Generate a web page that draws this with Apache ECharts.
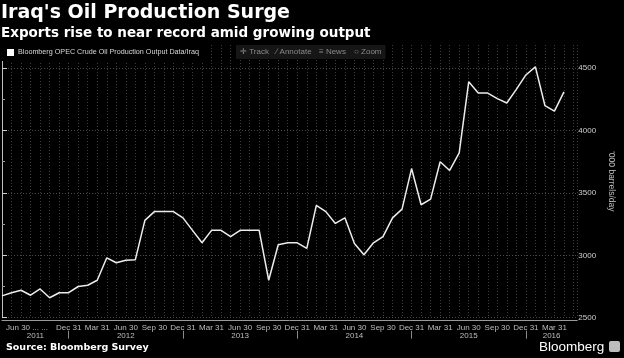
<!DOCTYPE html>
<html><head><meta charset="utf-8">
<script src="https://cdn.jsdelivr.net/npm/echarts@6/dist/echarts.min.js"></script>
<style>html,body{margin:0;padding:0;background:#000;}#c{width:624px;height:358px;}</style>
</head><body><div id="c"></div>
<script>
const months = [
  'May 2011','Jun 2011','Jul 2011','Aug 2011','Sep 2011','Oct 2011','Nov 2011','Dec 2011',
  'Jan 2012','Feb 2012','Mar 2012','Apr 2012','May 2012','Jun 2012','Jul 2012','Aug 2012','Sep 2012','Oct 2012','Nov 2012','Dec 2012',
  'Jan 2013','Feb 2013','Mar 2013','Apr 2013','May 2013','Jun 2013','Jul 2013','Aug 2013','Sep 2013','Oct 2013','Nov 2013','Dec 2013',
  'Jan 2014','Feb 2014','Mar 2014','Apr 2014','May 2014','Jun 2014','Jul 2014','Aug 2014','Sep 2014','Oct 2014','Nov 2014','Dec 2014',
  'Jan 2015','Feb 2015','Mar 2015','Apr 2015','May 2015','Jun 2015','Jul 2015','Aug 2015','Sep 2015','Oct 2015','Nov 2015','Dec 2015',
  'Jan 2016','Feb 2016','Mar 2016','Apr 2016'
];
const production = [
  2675, 2700, 2720, 2680, 2730, 2660, 2700, 2700,
  2750, 2760, 2800, 2980, 2940, 2960, 2965, 3280, 3350, 3350, 3350, 3300,
  3200, 3100, 3200, 3200, 3150, 3200, 3200, 3200, 2800, 3085, 3100, 3100,
  3055, 3400, 3350, 3255, 3300, 3095, 3005, 3100, 3150, 3300, 3370, 3695,
  3405, 3450, 3750, 3680, 3820, 4390, 4300, 4300, 4255, 4220, 4330, 4445,
  4510, 4200, 4155, 4310
];
const tickMonths = ['Jun 2011','Sep 2011','Dec 2011','Mar 2012','Jun 2012','Sep 2012','Dec 2012',
  'Mar 2013','Jun 2013','Sep 2013','Dec 2013','Mar 2014','Jun 2014','Sep 2014','Dec 2014',
  'Mar 2015','Jun 2015','Sep 2015','Dec 2015','Mar 2016'];
const tickLabels = ['Jun 30','... ...','Dec 31','Mar 31','Jun 30','Sep 30','Dec 31',
  'Mar 31','Jun 30','Sep 30','Dec 31','Mar 31','Jun 30','Sep 30','Dec 31',
  'Mar 31','Jun 30','Sep 30','Dec 31','Mar 31'];
const yearLabels = ['2011','2012','2013','2014','2015','2016'];
const yearEndMonths = ['Dec 2011','Dec 2012','Dec 2013','Dec 2014','Dec 2015'];
const yTickLabels = [2500, 3000, 3500, 4000, 4500];

const seriesName = 'Bloomberg OPEC Crude Oil Production Output Data/Iraq';
const xMin = 0, xMax = 60.4;
const tickPos = tickMonths.map(m => months.indexOf(m));
const firstTickPos = tickPos.slice(0, 1);
const restTickPos = tickPos.slice(1);
const yearEndPos = yearEndMonths.map(m => months.indexOf(m));
const bounds = [xMin].concat(yearEndPos, [xMax]);
const yearPos = yearLabels.map((y, i) => (bounds[i] + bounds[i + 1]) / 2);
const lineData = production.map((v, i) => [i, v]);

const smallFont = 'Liberation Sans';
function quarterLabel(v) {
  const i = tickPos.indexOf(Math.round(v));
  return i >= 0 ? tickLabels[i] : '';
}
const chart = echarts.init(document.getElementById('c'), null, {renderer: 'canvas'});
chart.setOption({
  backgroundColor: '#000',
  animation: false,
  title: [
    {text: "Iraq's Oil Production Surge", left: 1, top: 4, padding: 0,
     textStyle: {color: '#fff', fontSize: 19, fontWeight: 'bold', fontFamily: 'DejaVu Sans'}},
    {text: 'Exports rise to near record amid growing output', left: 1, top: 26, padding: 0,
     textStyle: {color: '#fff', fontSize: 13.5, fontWeight: 'bold', fontFamily: 'DejaVu Sans'}},
    {text: '\u271B Track', left: 236, top: 45, padding: [3, 4], backgroundColor: '#161616',
     textStyle: {color: '#8a8a8a', fontSize: 8, fontWeight: 'normal', fontFamily: smallFont}},
    {text: '\u2215 Annotate', left: 272, top: 45, padding: [3, 4], backgroundColor: '#161616',
     textStyle: {color: '#8a8a8a', fontSize: 8, fontWeight: 'normal', fontFamily: smallFont}},
    {text: '\u2261 News', left: 315, top: 45, padding: [3, 4], backgroundColor: '#161616',
     textStyle: {color: '#8a8a8a', fontSize: 8, fontWeight: 'normal', fontFamily: smallFont}},
    {text: '\u25CB Zoom', left: 350, top: 45, padding: [3, 4], backgroundColor: '#161616',
     textStyle: {color: '#8a8a8a', fontSize: 8, fontWeight: 'normal', fontFamily: smallFont}},
    {text: 'Source: Bloomberg Survey', left: 6, top: 343, padding: 0,
     textStyle: {color: '#fff', fontSize: 9.5, fontWeight: 'bold', fontFamily: 'DejaVu Sans'}},
    {text: 'Bloomberg', left: 539, top: 340, padding: 0,
     textStyle: {color: '#fff', fontSize: 13.5, fontWeight: 'normal', fontFamily: smallFont}}
  ],
  graphic: [
    {type: 'rect', left: 609, top: 341, shape: {width: 11, height: 11, r: 2}, style: {fill: '#bdbdbd'}}
  ],
  legend: {
    left: 2, top: 44, padding: [5, 6, 5, 5], backgroundColor: '#000',
    itemWidth: 7, itemHeight: 7, itemGap: 4,
    data: [{name: seriesName, icon: 'rect', itemStyle: {color: '#fff'}}],
    textStyle: {color: '#d8d8d8', fontSize: 7.2, fontFamily: smallFont, padding: [0, 0, 0, -1]}
  },
  grid: {left: 2, right: 35, top: 45, bottom: 40.3},
  xAxis: [
    {type: 'value', min: xMin, max: xMax, interval: 1, offset: 3,
     axisLine: {show: true, lineStyle: {color: '#9a9a9a', width: 1}},
     axisTick: {show: false}, axisLabel: {show: false},
     splitLine: {show: true, lineStyle: {color: '#3d3d3d', type: [1, 2], width: 1}}},
    {type: 'value', min: xMin, max: xMax, position: 'bottom', offset: 3,
     axisLine: {show: false}, axisTick: {show: false}, splitLine: {show: false},
     axisLabel: {customValues: restTickPos, color: '#bdbdbd', fontSize: 8, fontFamily: smallFont, margin: 3,
       hideOverlap: false, formatter: quarterLabel}},
    {type: 'value', min: xMin, max: xMax, position: 'bottom', offset: 3,
     axisLine: {show: false}, axisTick: {show: false}, splitLine: {show: false},
     axisLabel: {customValues: firstTickPos, color: '#bdbdbd', fontSize: 8, fontFamily: smallFont, margin: 3,
       hideOverlap: false, showMinLabel: true,
       formatter: function (v) { return '{f|' + quarterLabel(v) + '}'; },
       rich: {f: {color: '#bdbdbd', fontSize: 8, fontFamily: smallFont, padding: [0, 0, 0, 13]}}}},
    {type: 'value', min: xMin, max: xMax, position: 'bottom', offset: 13,
     axisLine: {show: false},
     axisTick: {show: true, customValues: yearEndPos, length: 8, lineStyle: {color: '#8a8a8a'}},
     splitLine: {show: false},
     axisLabel: {customValues: yearPos, color: '#bdbdbd', fontSize: 8, fontFamily: smallFont, margin: 1,
       hideOverlap: false,
       formatter: function (v) {
         const i = yearPos.findIndex(p => Math.abs(p - v) < 0.01);
         return i >= 0 ? yearLabels[i] : '';
       }}}
  ],
  yAxis: [
    {type: 'value', position: 'right', min: 2500, max: 4685, interval: 500,
     axisLine: {show: true, lineStyle: {color: '#bdbdbd', width: 1}},
     axisTick: {show: true, customValues: yTickLabels, length: 5, lineStyle: {color: '#cfcfcf'}},
     minorTick: {show: true, splitNumber: 2, length: 3, lineStyle: {color: '#9a9a9a'}},
     axisLabel: {customValues: yTickLabels, color: '#cfcfcf', fontSize: 8, fontFamily: smallFont, margin: 1,
       formatter: function (v) { return String(v); }},
     splitLine: {show: true, lineStyle: {color: '#4a4a4a', type: [1, 2], width: 1}},
     name: "'000 barrels/day", nameLocation: 'middle', nameRotate: -90, nameGap: 27,
     nameTextStyle: {color: '#bdbdbd', fontSize: 8.5, fontFamily: smallFont}}
  ],
  series: [{
    name: seriesName, type: 'line', xAxisIndex: 0, yAxisIndex: 0,
    data: lineData, symbol: 'none', z: 5,
    lineStyle: {color: '#ececec', width: 1.5}, itemStyle: {color: '#fff'}
  }]
});
</script>
</body></html>
